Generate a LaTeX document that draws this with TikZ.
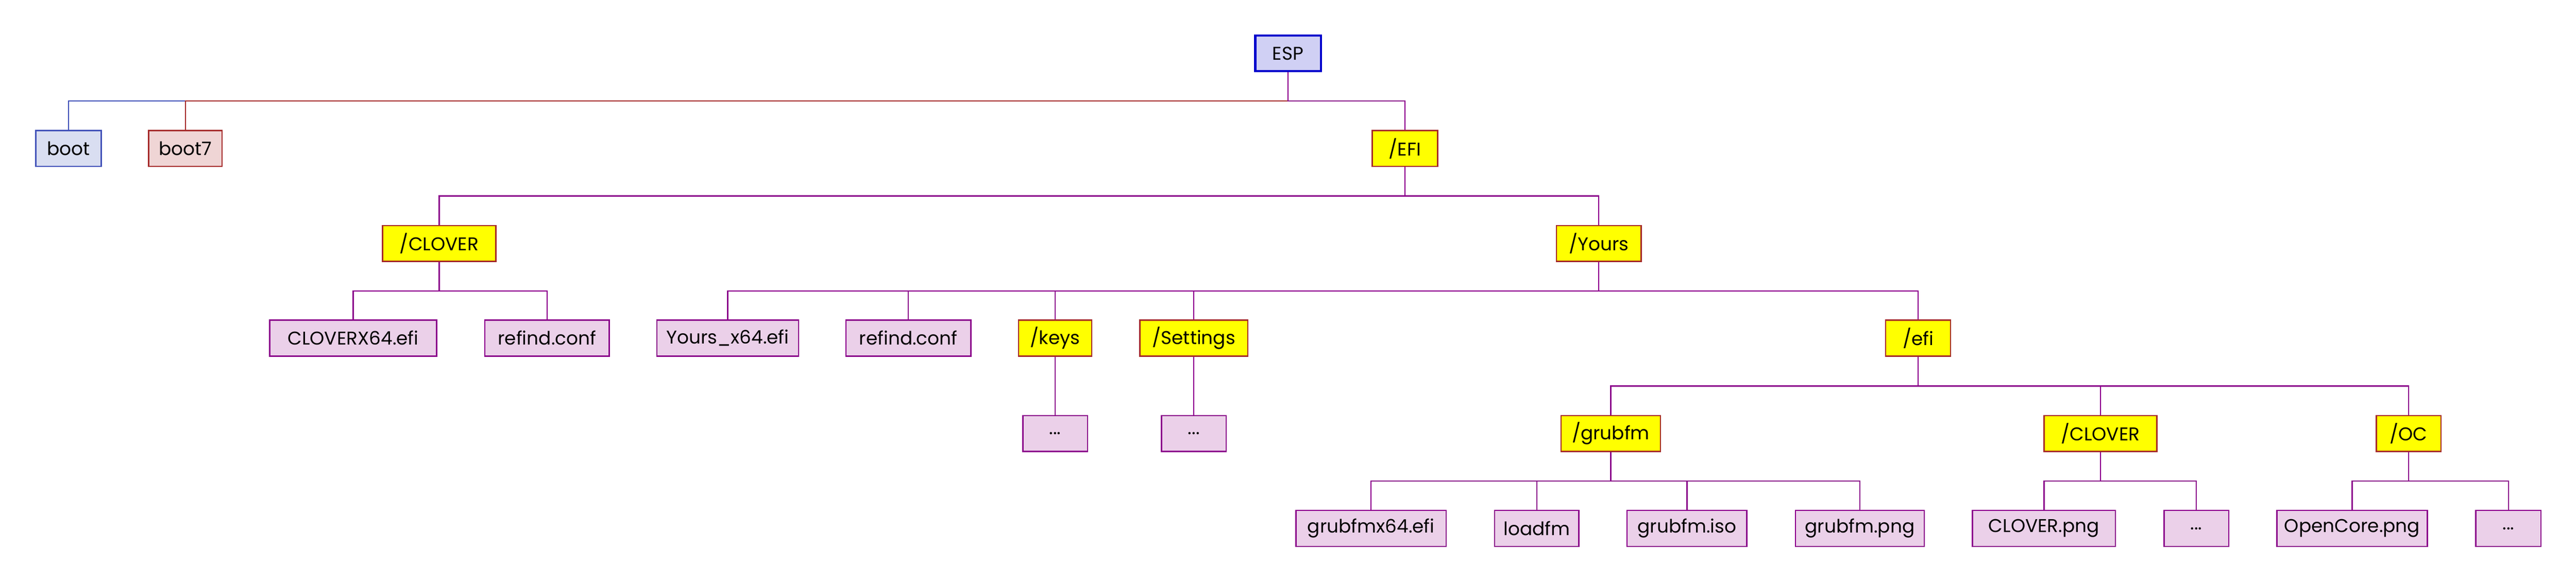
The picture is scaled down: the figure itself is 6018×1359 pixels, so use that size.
\documentclass[tikz,border=0pt]{standalone}
\usepackage{fontspec}
\setmainfont{Poppins}
\definecolor{espfill}{HTML}{D0D0F4}
\definecolor{espline}{HTML}{0000CC}
\definecolor{bootfill}{HTML}{D9DEF1}
\definecolor{bootline}{HTML}{4050B8}
\definecolor{brownline}{HTML}{A52A2A}
\definecolor{boot7fill}{HTML}{EFD5D5}
\definecolor{filefill}{HTML}{EBD0E9}
\definecolor{purpline}{HTML}{8B008B}
\definecolor{dirfill}{HTML}{FFFF00}
\tikzset{
  base/.style={rectangle, inner sep=0pt, minimum height=21pt, line width=0.75pt, font=\fontsize{10.8}{12}\selectfont},
  espbox/.style={base, fill=espfill, draw=espline, line width=1.25pt, minimum height=20.75pt},
  bootbox/.style={base, fill=bootfill, draw=bootline},
  boot7box/.style={base, fill=boot7fill, draw=brownline},
  dirbox/.style={base, fill=dirfill, draw=brownline},
  filebox/.style={base, fill=filefill, draw=purpline},
  edgep/.style={draw=purpline, line width=0.75pt},
  edgeb/.style={draw=bootline, line width=0.75pt},
  edger/.style={draw=brownline, line width=0.75pt},
}
\newcommand{\conn}[4]{\draw[#4] (#1.south) -- (#1.south |- #3) -| (#2.north);}
\begin{document}
\begin{tikzpicture}[x=0.25pt, y=-0.25pt]
\useasboundingbox (0,0) rectangle (6018,1359);
% bars
\coordinate (b0) at (0,236);
\coordinate (b1) at (0,458);
\coordinate (b2) at (0,680);
\coordinate (b3) at (0,902);
\coordinate (b4) at (0,1124);
% row 0
\node[espbox, minimum width=38.25pt] (esp) at (3009,125) {ESP};
% row 1
\node[bootbox, minimum width=38.25pt] (boot) at (160,347) {boot};
\node[boot7box, minimum width=42.75pt] (boot7) at (433,347) {boot7};
\node[dirbox, minimum width=38.25pt] (EFI) at (3282,347) {/EFI};
% row 2
\node[dirbox, minimum width=66.25pt] (clover) at (1026,569) {/CLOVER};
\node[dirbox, minimum width=49.5pt] (yours) at (3735,569) {/Yours};
% row 3
\node[filebox, minimum width=97.5pt] (cloverx) at (825,790) {CLOVERX64.efi};
\node[filebox, minimum width=72.75pt] (refindA) at (1278,790) {refind.conf};
\node[filebox, minimum width=82.75pt] (yoursx) at (1700,790) {Yours\_x64.efi};
\node[filebox, minimum width=73pt] (refindB) at (2122,790) {refind.conf};
\node[dirbox, minimum width=42.75pt] (keys) at (2465,790) {/keys};
\node[dirbox, minimum width=63pt] (settings) at (2789,790) {/Settings};
\node[dirbox, minimum width=38pt] (efi) at (4481,790) {/efi};
% row 4
\node[filebox, minimum width=37.75pt] (keysdots) at (2465,1013) {...};
\node[filebox, minimum width=37.75pt] (setdots) at (2789,1013) {...};
\node[dirbox, minimum width=58pt] (grubfm) at (3763,1013) {/grubfm};
\node[dirbox, minimum width=66pt] (cloverB) at (4907,1013) {/CLOVER};
\node[dirbox, minimum width=37.75pt] (oc) at (5627,1013) {/OC};
% row 5
\node[filebox, minimum width=87.75pt] (gx64) at (3203,1235) {grubfmx64.efi};
\node[filebox, minimum width=49.25pt] (loadfm) at (3590,1235) {loadfm};
\node[filebox, minimum width=70pt] (giso) at (3941,1235) {grubfm.iso};
\node[filebox, minimum width=75.25pt] (gpng) at (4345,1235) {grubfm.png};
\node[filebox, minimum width=83.5pt] (cpng) at (4775,1235) {CLOVER.png};
\node[filebox, minimum width=37.75pt] (cdots) at (5131,1235) {...};
\node[filebox, minimum width=87.75pt] (opng) at (5495,1235) {OpenCore.png};
\node[filebox, minimum width=38pt] (odots) at (5860,1235) {...};
% connectors
\conn{esp}{boot}{b0}{edgeb}
\conn{esp}{boot7}{b0}{edger}
\conn{esp}{EFI}{b0}{edgep}
\conn{EFI}{clover}{b1}{edgep}
\conn{EFI}{yours}{b1}{edgep}
\conn{clover}{cloverx}{b2}{edgep}
\conn{clover}{refindA}{b2}{edgep}
\conn{yours}{yoursx}{b2}{edgep}
\conn{yours}{refindB}{b2}{edgep}
\conn{yours}{keys}{b2}{edgep}
\conn{yours}{settings}{b2}{edgep}
\conn{yours}{efi}{b2}{edgep}
\conn{keys}{keysdots}{b3}{edgep}
\conn{settings}{setdots}{b3}{edgep}
\conn{efi}{grubfm}{b3}{edgep}
\conn{efi}{cloverB}{b3}{edgep}
\conn{efi}{oc}{b3}{edgep}
\conn{grubfm}{gx64}{b4}{edgep}
\conn{grubfm}{loadfm}{b4}{edgep}
\conn{grubfm}{giso}{b4}{edgep}
\conn{grubfm}{gpng}{b4}{edgep}
\conn{cloverB}{cpng}{b4}{edgep}
\conn{cloverB}{cdots}{b4}{edgep}
\conn{oc}{opng}{b4}{edgep}
\conn{oc}{odots}{b4}{edgep}
\end{tikzpicture}
\end{document}
